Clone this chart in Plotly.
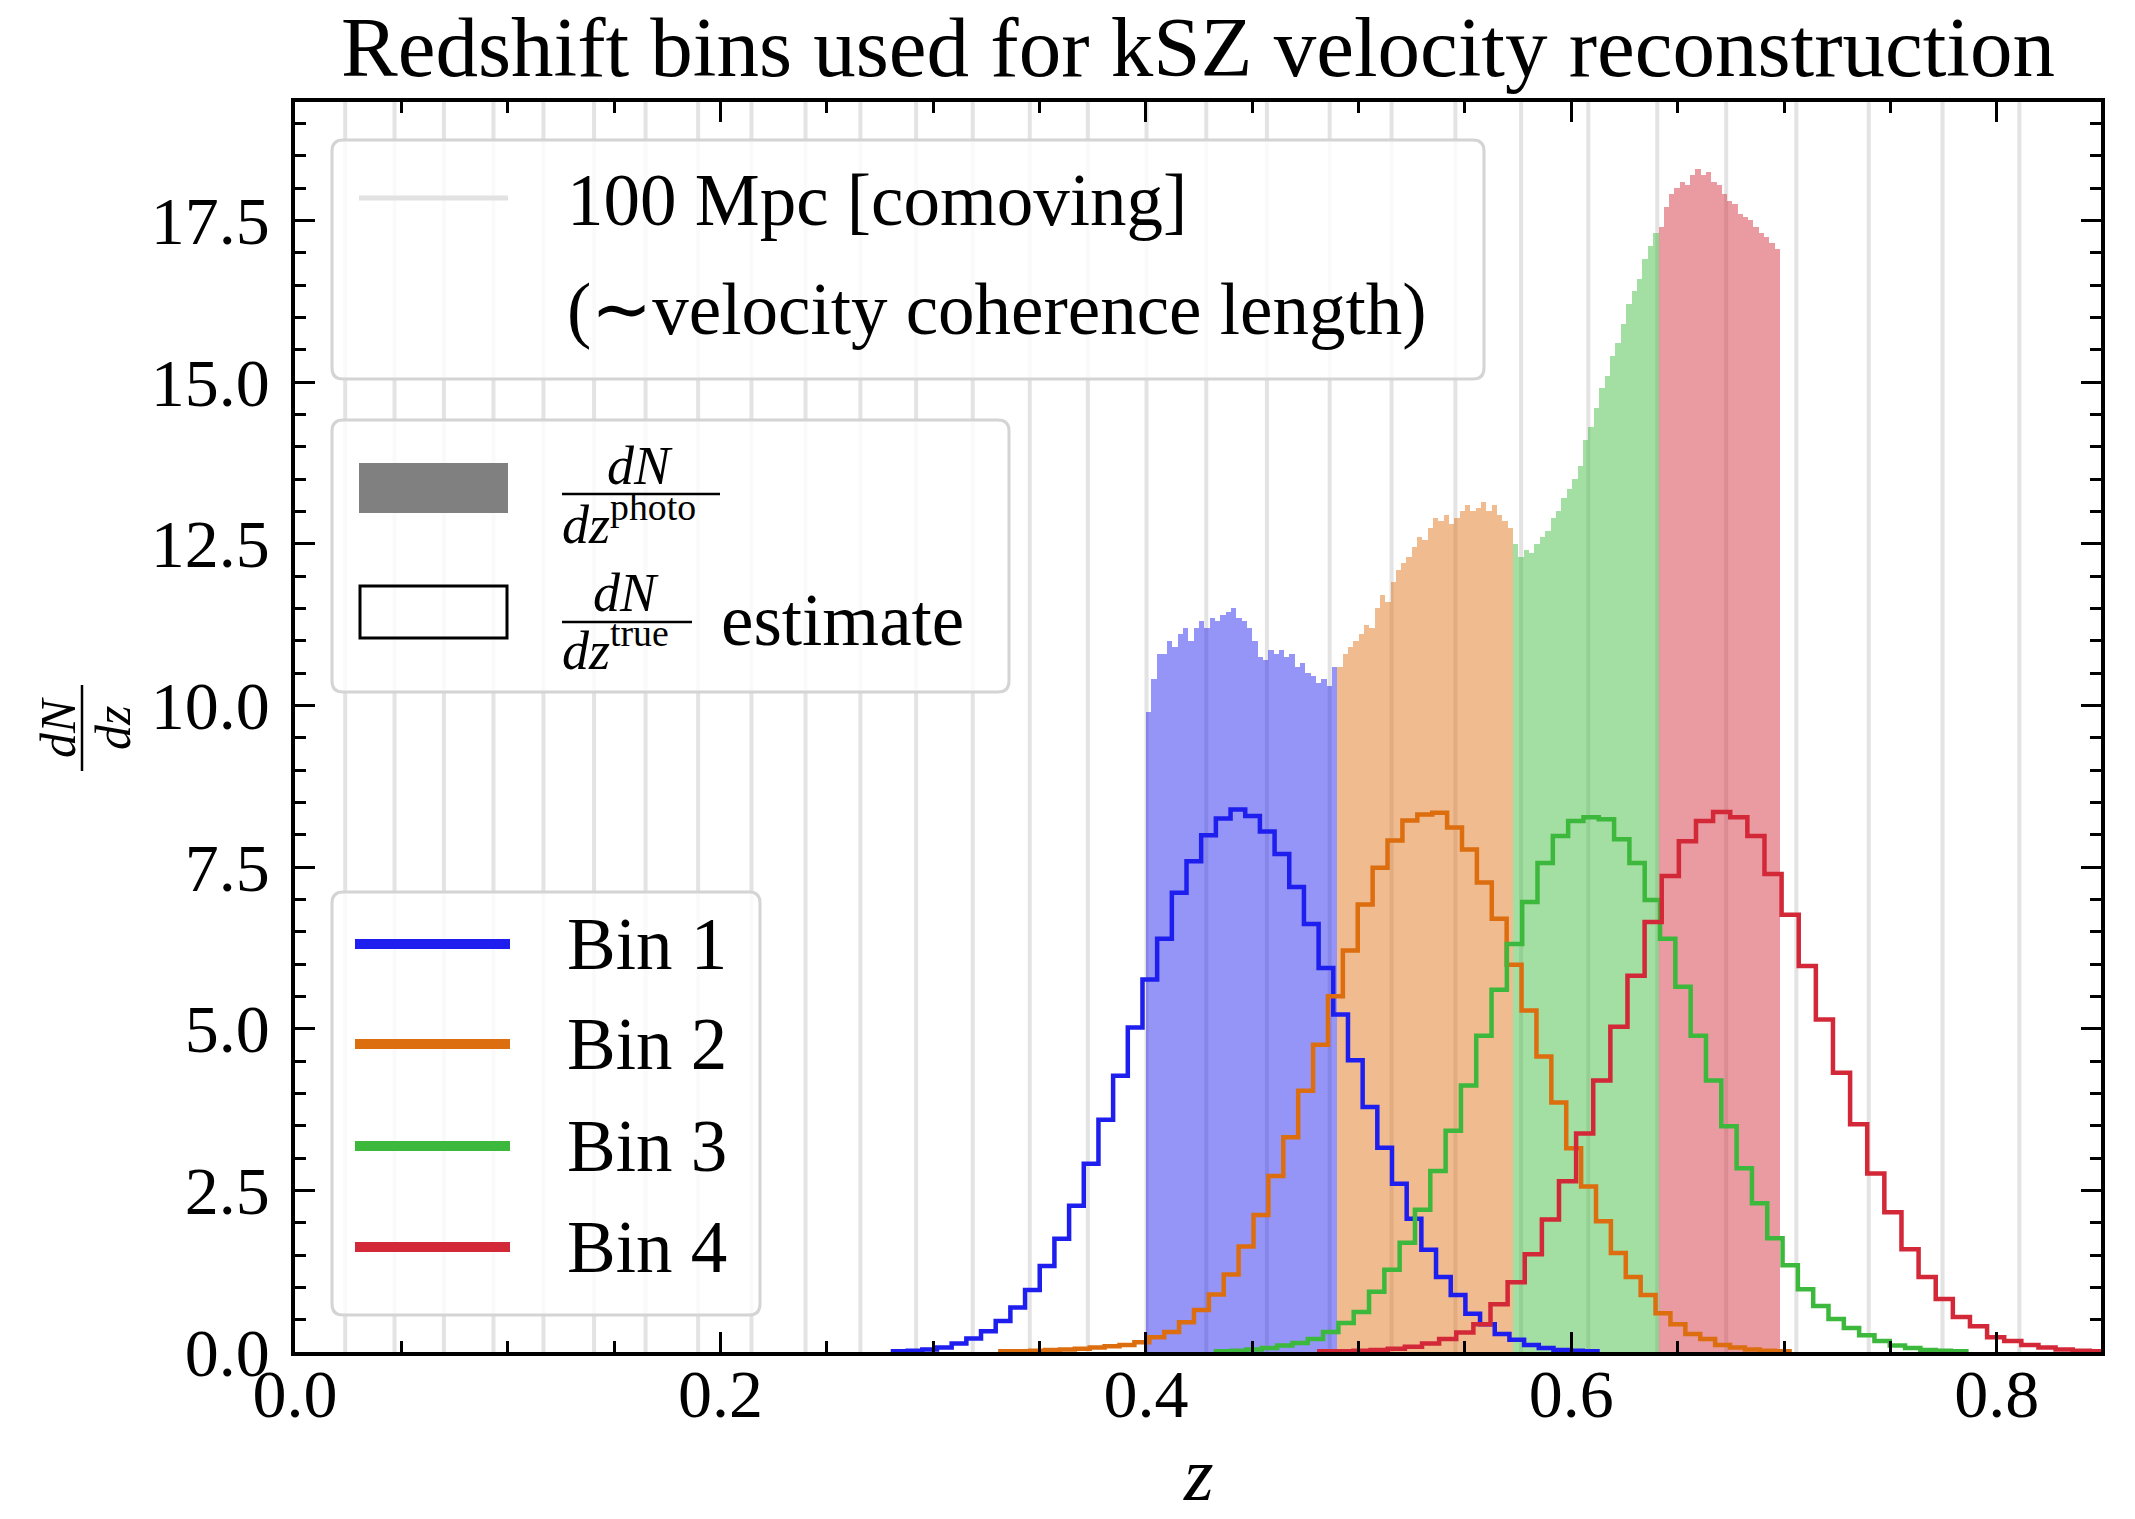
import plotly.graph_objects as go

# ------------------------------------------------------------------ data
# z positions of the 100 Mpc (comoving) markers
MPC100_Z = [0.0236, 0.0468, 0.0700, 0.0933, 0.1168, 0.1406, 0.1648, 0.1895, 0.2146, 0.2400,
            0.2658, 0.2920, 0.3186, 0.3454, 0.3727, 0.4003, 0.4284, 0.4569, 0.4864, 0.5155,
            0.5455, 0.5764, 0.6080, 0.6404, 0.6728, 0.7058, 0.7398, 0.7745, 0.8106]

BIN_NAMES = ["Bin 1", "Bin 2", "Bin 3", "Bin 4"]

# photo-z selection ranges of the four bins
PHOTO_RANGES = [(0.400, 0.490), (0.490, 0.5725), (0.5725, 0.641), (0.641, 0.698)]

# dN/dz photo (fine histogram) heights inside each bin
PHOTO_BIN1 = [9.9, 10.4, 10.8, 10.8, 11.0, 10.9, 11.1, 11.2, 11.0, 11.2, 11.3, 11.2, 11.35, 11.3,
              11.4, 11.45, 11.5, 11.35, 11.3, 11.2, 11.0, 10.75, 10.7, 10.85, 10.8, 10.85, 10.75,
              10.8, 10.6, 10.65, 10.5, 10.45, 10.35, 10.4, 10.3, 10.6]
PHOTO_BIN2 = [10.6, 10.8, 10.9, 11.0, 11.1, 11.25, 11.2, 11.5, 11.7, 11.6, 11.9, 12.1, 12.2, 12.3,
              12.45, 12.6, 12.55, 12.75, 12.9, 12.85, 12.95, 12.8, 12.9, 13.0, 13.1, 13.0, 13.05,
              13.15, 13.0, 13.1, 12.95, 12.85, 12.75]
PHOTO_BIN3 = [12.5, 12.3, 12.4, 12.35, 12.5, 12.6, 12.7, 12.9, 13.0, 13.2, 13.35, 13.5, 13.7, 14.1,
              14.3, 14.6, 14.9, 15.1, 15.4, 15.6, 15.9, 16.2, 16.4, 16.6, 16.9, 17.1, 17.3]
PHOTO_BIN4 = [17.4, 17.7, 17.9, 18.0, 18.1, 18.05, 18.2, 18.3, 18.2, 18.25, 18.1, 18.05, 17.9, 17.8,
              17.75, 17.6, 17.55, 17.5, 17.4, 17.3, 17.25, 17.15, 17.05]

# dN/dz true estimate (step histograms): first bin edge, bin width, heights
TRUE_STARTS = [0.2811, 0.3316, 0.4329, 0.4815]
TRUE_WIDTHS = [0.0069, 0.0070, 0.0072, 0.00805]
TRUE_BIN1 = [0.01, 0.02, 0.04, 0.07, 0.13, 0.21, 0.32, 0.48, 0.69, 0.96, 1.33, 1.75, 2.26, 2.91,
             3.59, 4.27, 5.02, 5.76, 6.39, 7.10, 7.59, 7.99, 8.25, 8.39, 8.29, 8.05, 7.70, 7.19,
             6.62, 5.94, 5.22, 4.51, 3.79, 3.16, 2.60, 2.06, 1.58, 1.16, 0.88, 0.59, 0.43, 0.28,
             0.19, 0.11, 0.06, 0.03, 0.02, 0.01]
TRUE_BIN2 = [0.01, 0.01, 0.02, 0.03, 0.04, 0.05, 0.07, 0.09, 0.11, 0.15, 0.23, 0.31, 0.46, 0.65,
             0.89, 1.20, 1.63, 2.12, 2.72, 3.32, 4.04, 4.75, 5.50, 6.21, 6.92, 7.49, 7.91, 8.22,
             8.31, 8.34, 8.11, 7.77, 7.26, 6.70, 5.99, 5.28, 4.57, 3.86, 3.15, 2.56, 2.02, 1.53,
             1.16, 0.88, 0.60, 0.43, 0.28, 0.20, 0.11, 0.07, 0.04, 0.02, 0.01]
TRUE_BIN3 = [0.01, 0.02, 0.04, 0.06, 0.10, 0.14, 0.20, 0.31, 0.45, 0.62, 0.93, 1.27, 1.69, 2.20,
             2.80, 3.42, 4.12, 4.89, 5.60, 6.31, 6.96, 7.56, 7.98, 8.21, 8.27, 8.24, 7.93, 7.56,
             6.99, 6.39, 5.65, 4.89, 4.20, 3.49, 2.84, 2.30, 1.76, 1.34, 0.97, 0.71, 0.51, 0.37,
             0.26, 0.17, 0.10, 0.06, 0.03, 0.02, 0.01]
TRUE_BIN4 = [0.01, 0.01, 0.02, 0.03, 0.05, 0.08, 0.13, 0.20, 0.30, 0.43, 0.74, 1.08, 1.51, 2.05,
             2.64, 3.38, 4.20, 5.03, 5.82, 6.65, 7.36, 7.90, 8.21, 8.35, 8.27, 7.98, 7.39, 6.76,
             5.97, 5.14, 4.32, 3.52, 2.76, 2.16, 1.59, 1.16, 0.82, 0.54, 0.40, 0.23, 0.17, 0.11,
             0.07, 0.04, 0.02, 0.01]

X_TICKS = [0.0, 0.2, 0.4, 0.6, 0.8]
Y_TICKS = [0.0, 2.5, 5.0, 7.5, 10.0, 12.5, 15.0, 17.5]

TITLE = "Redshift bins used for kSZ velocity reconstruction"

# ------------------------------------------------------------------ style
W, H = 2135, 1519
L, R, T, B = 295, 2101, 102, 1352          # plot area in pixels
FONT = "Liberation Serif"
LINE_COLORS = [(30, 30, 238), (220, 110, 16), (60, 184, 60), (210, 40, 56)]


def rgb(c):
    return "rgb(%d,%d,%d)" % c


def rgba(c, a):
    return "rgba(%d,%d,%d,%.2f)" % (c[0], c[1], c[2], a)


def px(xp):
    return (xp - L) / (R - L)


def py(yp):
    return (B - yp) / (B - T)


PHOTO = [PHOTO_BIN1, PHOTO_BIN2, PHOTO_BIN3, PHOTO_BIN4]
TRUE = [TRUE_BIN1, TRUE_BIN2, TRUE_BIN3, TRUE_BIN4]

fig = go.Figure()

# photo-z fine histograms
for k in range(4):
    lo, hi = PHOTO_RANGES[k]
    vals = PHOTO[k]
    n = len(vals)
    w = (hi - lo) / n
    centers = [lo + (i + 0.5) * w for i in range(n)]
    fig.add_trace(go.Bar(
        x=centers, y=vals, width=w,
        marker=dict(color=rgba(LINE_COLORS[k], 0.47), line=dict(width=0)),
        name=BIN_NAMES[k] + " dN/dz photo", showlegend=False))

# true-z step histograms
for k in range(4):
    start, w, vals = TRUE_STARTS[k], TRUE_WIDTHS[k], TRUE[k]
    edges = [start + i * w for i in range(len(vals) + 1)]
    xs = [edges[0]] + edges[:-1] + [edges[-1], edges[-1]]
    ys = [0] + vals + [vals[-1], 0]
    fig.add_trace(go.Scatter(
        x=xs, y=ys, mode="lines",
        line=dict(color=rgb(LINE_COLORS[k]), width=4.5, shape="hv"),
        name=BIN_NAMES[k], showlegend=False))

shapes = []
# 100 Mpc markers
for z in MPC100_Z:
    shapes.append(dict(type="line", xref="x", yref="paper", x0=z, x1=z, y0=0, y1=1,
                       line=dict(color="#e3e3e3", width=4), layer="below"))


def rounded_box(x0p, y0p, x1p, y1p, r=11):
    x0, x1 = px(x0p), px(x1p)
    yt, yb = py(y0p), py(y1p)
    rx, ry = r / (R - L), r / (B - T)
    path = (f"M {x0+rx},{yb} L {x1-rx},{yb} Q {x1},{yb} {x1},{yb+ry} "
            f"L {x1},{yt-ry} Q {x1},{yt} {x1-rx},{yt} L {x0+rx},{yt} "
            f"Q {x0},{yt} {x0},{yt-ry} L {x0},{yb+ry} Q {x0},{yb} {x0+rx},{yb} Z")
    return dict(type="path", xref="paper", yref="paper", path=path,
                fillcolor="rgba(255,255,255,0.82)",
                line=dict(color="rgb(212,212,212)", width=3), layer="above")


def hline(x0p, x1p, yp, color, width):
    return dict(type="line", xref="paper", yref="paper", x0=px(x0p), x1=px(x1p),
                y0=py(yp), y1=py(yp), line=dict(color=color, width=width), layer="above")


annotations = []


def text(xp, yp, s, size, anchor="left", angle=0, yanchor="middle"):
    annotations.append(dict(xref="paper", yref="paper", x=px(xp), y=py(yp), text=s,
                            showarrow=False, xanchor=anchor, yanchor=yanchor,
                            textangle=angle,
                            font=dict(family=FONT, size=size, color="black")))


LEG = 73
FR = 54
# legend 1 : 100 Mpc
shapes.append(rounded_box(332, 140, 1484, 379))
shapes.append(hline(359, 508, 198, "#e2e2e2", 5))
text(565, 200, "100 Mpc [comoving]", LEG)
text(565, 309, "(\u223cvelocity coherence length)", LEG)

# legend 2 : photo / true
shapes.append(rounded_box(332, 420, 1009, 692))
shapes.append(dict(type="rect", xref="paper", yref="paper", x0=px(359), x1=px(508),
                   y0=py(513), y1=py(463), fillcolor="#808080", line=dict(width=0),
                   layer="above"))
shapes.append(dict(type="rect", xref="paper", yref="paper", x0=px(360), x1=px(507),
                   y0=py(638), y1=py(586), fillcolor="rgba(0,0,0,0)",
                   line=dict(color="black", width=3), layer="above"))
text(640, 466, "<i>dN</i>", FR, anchor="center")
shapes.append(hline(562, 720, 494, "black", 2.5))
text(560, 520, "<i>dz</i><sup>photo</sup>", FR)
text(626, 593, "<i>dN</i>", FR, anchor="center")
shapes.append(hline(562, 692, 622, "black", 2.5))
text(560, 646, "<i>dz</i><sup>true</sup>", FR)
text(719, 620, "estimate", LEG)

# legend 3 : bins
shapes.append(rounded_box(332, 892, 760, 1315))
for k, yy in enumerate([944, 1044, 1146, 1247]):
    shapes.append(hline(355, 510, yy, rgb(LINE_COLORS[k]), 10))
    text(565, yy, BIN_NAMES[k], LEG)

# y-axis label (fraction dN/dz, rotated)
text(58, 728, "<i>dN</i>", 50, anchor="center", angle=-90)
shapes.append(dict(type="line", xref="paper", yref="paper", x0=px(82), x1=px(82),
                   y0=py(771), y1=py(685), line=dict(color="black", width=2.5),
                   layer="above"))
text(113, 728, "<i>dz</i>", 50, anchor="center", angle=-90)

# x-axis label
text(1198, 1518, "<i>z</i>", 76, anchor="center", yanchor="bottom")

axis_common = dict(
    ticks="inside", ticklen=20, tickwidth=3, tickcolor="black",
    showline=True, linewidth=3.5, linecolor="black", mirror="allticks",
    showgrid=False, zeroline=False, automargin=False,
    tickfont=dict(family=FONT, size=68, color="black"),
    tickformat=".1f",
)

fig.update_xaxes(range=[0, 0.849], tickmode="array", tickvals=X_TICKS,
                 ticklabelstandoff=-20,
                 minor=dict(tickmode="linear", tick0=0, dtick=0.05, ticks="inside",
                            ticklen=11, tickwidth=2.5, tickcolor="black", showgrid=False),
                 **axis_common)
fig.update_yaxes(range=[0, 19.33], tickmode="array", tickvals=Y_TICKS,
                 ticklabelstandoff=8,
                 minor=dict(tickmode="linear", tick0=0, dtick=0.5, ticks="inside",
                            ticklen=11, tickwidth=2.5, tickcolor="black", showgrid=False),
                 **axis_common)

fig.update_layout(
    width=W, height=H, autosize=False,
    margin=dict(l=L, r=W - R, t=T, b=H - B, pad=0),
    paper_bgcolor="white", plot_bgcolor="white",
    barmode="overlay", bargap=0,
    showlegend=False,
    title=dict(text=TITLE, x=0.5, xref="paper", xanchor="center",
               y=1 - 46 / H, yref="container", yanchor="middle",
               font=dict(family=FONT, size=85, color="black")),
    shapes=shapes, annotations=annotations,
)

fig.write_html("out.html")
